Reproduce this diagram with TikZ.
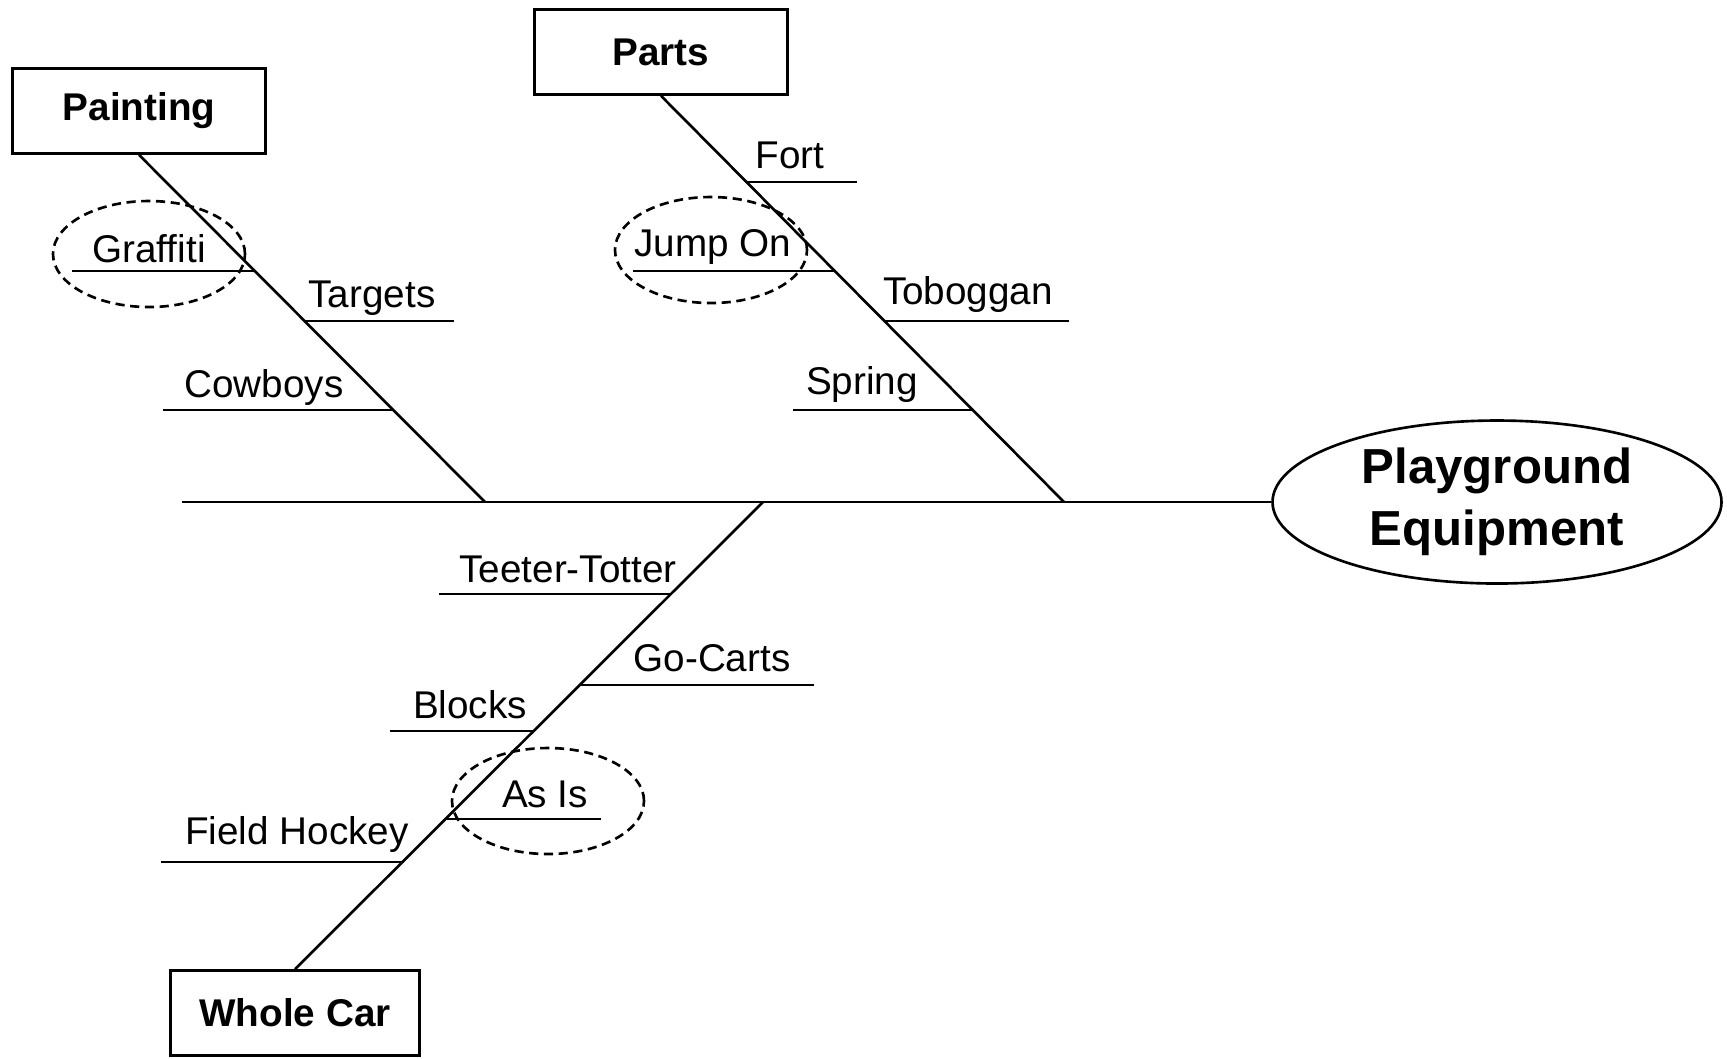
\documentclass[tikz,border=0pt]{standalone}
\usepackage{fontspec}
\setmainfont{Liberation Sans}
\usepackage{tikz}
\usetikzlibrary{shapes}
\tikzset{box/.style={rectangle,draw,minimum width=2.53cm,minimum height=0.85cm,font=\bfseries\fontsize{11}{13}\selectfont}}
\tikzset{lab/.style={anchor=base,inner sep=0pt,font=\fontsize{11}{13}\selectfont}}
\tikzset{ring/.style={ellipse,draw,dash pattern=on 2.6pt off 1.6pt,minimum width=1.92cm,minimum height=1.06cm,inner sep=0pt}}
\tikzset{head/.style={ellipse,draw,minimum width=4.49cm,minimum height=1.63cm,inner sep=0pt,align=center,font=\bfseries\fontsize{14}{17.5}\selectfont}}

\begin{document}
\begin{tikzpicture}[line width=0.75pt]
        \useasboundingbox (0,0) rectangle (17.27,-10.58);

        \node[box] (a)at (1.39,-1.11) {Painting};
        \node[box] (b)at (6.61,-0.52) {Parts};
        \node[box,minimum width=2.49cm] (c)at (2.95,-10.13) {Whole Car};
        \node[head] (e)at (14.97,-5.02) {Playground\\Equipment};

        \coordinate (s)at (1.82,-5.02);
        \coordinate (s1)at (4.85,-5.02);
        \coordinate (s2)at (10.64,-5.02);
        \coordinate (s3)at (7.63,-5.02);

        \coordinate (a1)at (2.56,-2.71);
        \coordinate (a1e)at (0.72,-2.71);
        \coordinate (a2)at (3.05,-3.21);
        \coordinate (a2e)at (4.54,-3.21);
        \coordinate (a3)at (3.94,-4.10);
        \coordinate (a3e)at (1.63,-4.10);

        \coordinate (b1)at (7.47,-1.82);
        \coordinate (b1e)at (8.57,-1.82);
        \coordinate (b2)at (8.35,-2.71);
        \coordinate (b2e)at (6.33,-2.71);
        \coordinate (b3)at (8.85,-3.21);
        \coordinate (b3e)at (10.69,-3.21);
        \coordinate (b4)at (9.73,-4.10);
        \coordinate (b4e)at (7.93,-4.10);

        \coordinate (c1)at (6.71,-5.94);
        \coordinate (c1e)at (4.39,-5.94);
        \coordinate (c2)at (5.81,-6.85);
        \coordinate (c2e)at (8.14,-6.85);
        \coordinate (c3)at (5.35,-7.31);
        \coordinate (c3e)at (3.90,-7.31);
        \coordinate (c4)at (4.47,-8.19);
        \coordinate (c4e)at (6.01,-8.19);
        \coordinate (c5)at (4.04,-8.62);
        \coordinate (c5e)at (1.61,-8.62);

        \node[lab] (la1)at (1.49,-2.62) {Graffiti};
        \node[lab] (la2)at (3.72,-3.07) {Targets};
        \node[lab] (la3)at (2.64,-3.97) {Cowboys};
        \node[lab] (lb1)at (7.90,-1.68) {Fort};
        \node[lab] (lb2)at (7.13,-2.56) {Jump On};
        \node[lab] (lb3)at (9.68,-3.04) {Toboggan};
        \node[lab] (lb4)at (8.62,-3.94) {Spring};
        \node[lab] (lc1)at (5.68,-5.82) {Teeter-Totter};
        \node[lab] (lc2)at (7.12,-6.71) {Go-Carts};
        \node[lab] (lc3)at (4.70,-7.18) {Blocks};
        \node[lab] (lc4)at (5.45,-8.07) {As Is};
        \node[lab] (lc5)at (2.97,-8.44) {Field Hockey};

        \node[ring] (ra)at (1.49,-2.54) {};
        \node[ring] (rb)at (7.11,-2.50) {};
        \node[ring] (rc)at (5.48,-8.01) {};

        \draw [] (s) to (e);
        \draw [] (a.south) to (s1);
        \draw [] (b.south) to (s2);
        \draw [] (c.north) to (s3);

        \draw [] (a1) to (a1e);
        \draw [] (a2) to (a2e);
        \draw [] (a3) to (a3e);
        \draw [] (b1) to (b1e);
        \draw [] (b2) to (b2e);
        \draw [] (b3) to (b3e);
        \draw [] (b4) to (b4e);
        \draw [] (c1) to (c1e);
        \draw [] (c2) to (c2e);
        \draw [] (c3) to (c3e);
        \draw [] (c4) to (c4e);
        \draw [] (c5) to (c5e);
    \end{tikzpicture}
\end{document}
